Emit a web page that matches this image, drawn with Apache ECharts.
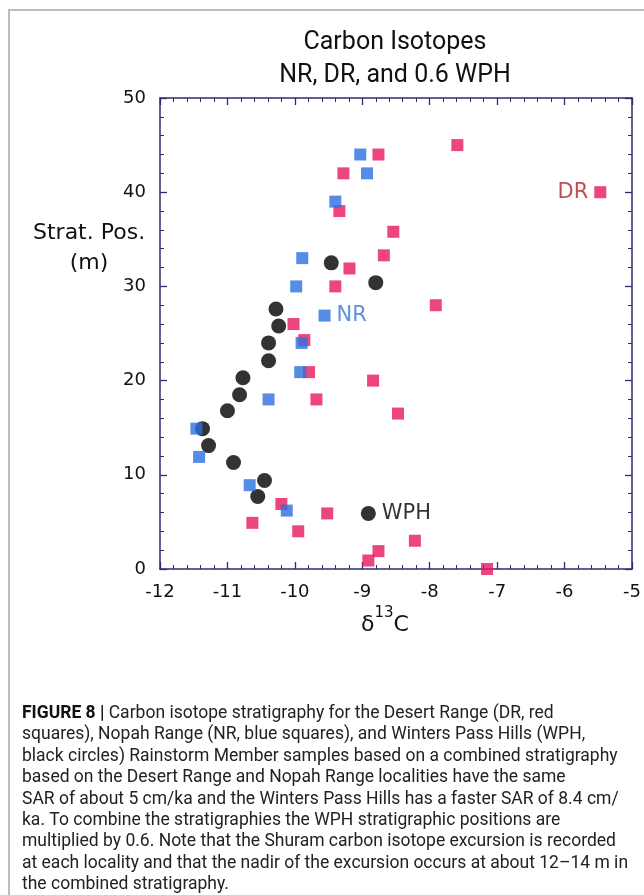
<!DOCTYPE html>
<html>
<head>
<meta charset="utf-8">
<script src="https://cdn.jsdelivr.net/npm/echarts@6/dist/echarts.min.js"></script>
<style>
  html, body { margin: 0; padding: 0; background: #fff; }
  #chart { width: 644px; height: 895px; }
</style>
</head>
<body>
<div id="chart"></div>
<script>
// Desert Range (red squares)
const drX = [-7.59, -8.76, -9.28, -5.47, -9.34, -8.54, -8.68, -9.19, -9.40, -7.91, -10.02, -9.86,
             -9.79, -8.84, -9.68, -8.47, -10.20, -9.52, -10.63, -9.95, -8.22, -8.76, -8.91, -7.15];
const drY = [45.0, 44.0, 42.0, 40.0, 38.0, 35.8, 33.3, 31.9, 30.0, 28.0, 26.0, 24.3,
             20.9, 20.0, 18.0, 16.5, 6.9, 5.9, 4.9, 4.0, 3.0, 1.9, 0.9, 0.0];
// Nopah Range (blue squares)
const nrX = [-9.03, -8.93, -9.40, -9.89, -9.98, -9.56, -9.90, -9.92, -10.39, -11.46, -11.42, -10.67, -10.12];
const nrY = [44.0, 42.0, 39.0, 33.0, 30.0, 26.9, 24.0, 20.9, 18.0, 14.9, 11.9, 8.9, 6.2];
// Winters Pass Hills x 0.6 (black circles)
const wphX = [-9.46, -8.80, -10.28, -10.24, -10.39, -10.39, -10.77, -10.82, -11.00, -11.37, -11.28, -10.91, -10.45, -10.55, -8.91];
const wphY = [32.5, 30.4, 27.6, 25.8, 24.0, 22.1, 20.3, 18.5, 16.8, 14.9, 13.1, 11.3, 9.4, 7.7, 5.9];

// which point carries the in-plot series label
const drLabelAt = 3;
const nrLabelAt = 5;
const wphLabelAt = 14;

const xTicks = [-12, -11, -10, -9, -8, -7, -6, -5];
const yTicks = [0, 10, 20, 30, 40, 50];

const captionLines = [
  '{b|FIGURE 8 |} Carbon isotope stratigraphy for the Desert Range (DR, red',
  'squares), Nopah Range (NR, blue squares), and Winters Pass Hills (WPH,',
  'black circles) Rainstorm Member samples based on a combined stratigraphy',
  'based on the Desert Range and Nopah Range localities have the same',
  'SAR of about 5 cm/ka and the Winters Pass Hills has a faster SAR of 8.4 cm/',
  'ka. To combine the stratigraphies the WPH stratigraphic positions are',
  'multiplied by 0.6. Note that the Shuram carbon isotope excursion is recorded',
  'at each locality and that the nadir of the excursion occurs at about 12\u201314 m in',
  'the combined stratigraphy.'
];

const AXIS_COLOR = '#2c2c72';
const LABEL_FONT = '"DejaVu Sans", sans-serif';
const CAPTION_FONT = 'Roboto, "Liberation Sans", sans-serif';

function points(xs, ys, labelAt, labelText, pos, color) {
  return xs.map((x, i) => {
    const item = { value: [x, ys[i]] };
    if (i === labelAt) {
      item.label = {
        show: true, formatter: labelText, position: pos, distance: 6,
        color: color, fontSize: 21, fontFamily: LABEL_FONT
      };
    }
    return item;
  });
}

function baseAxis(extra) {
  return Object.assign({
    type: 'value',
    axisLine: { show: true, onZero: false, lineStyle: { color: AXIS_COLOR, width: 1.5 } },
    axisTick: { show: true, inside: true, length: 7, lineStyle: { color: AXIS_COLOR, width: 1.3 } },
    minorTick: { show: true, splitNumber: 5, length: 4, lineStyle: { color: AXIS_COLOR, width: 1 } },
    splitLine: { show: false },
    axisLabel: { show: false }
  }, extra);
}

const chart = echarts.init(document.getElementById('chart'), null, { renderer: 'canvas' });

const option = {
  backgroundColor: '#fff',
  animation: false,
  title: {
    text: 'Carbon Isotopes\nNR, DR, and 0.6 WPH',
    left: 390,
    top: 21,
    textAlign: 'center',
    textStyle: {
      fontFamily: 'Roboto, sans-serif',
      fontWeight: 'normal', fontSize: 25, lineHeight: 33, color: '#111'
    }
  },
  grid: { left: 160, right: 12, top: 98, bottom: 326, containLabel: false },
  xAxis: [
    baseAxis({
      position: 'bottom', min: xTicks[0], max: xTicks[xTicks.length - 1], interval: 1,
      axisLabel: { show: true, margin: 14, fontSize: 18, fontFamily: LABEL_FONT, color: '#111' },
      name: '{d|\u03b4}{s|13}{c|C}',
      nameLocation: 'middle',
      nameGap: 37,
      nameTextStyle: {
        padding: [0, 22, 0, 0],
        rich: {
          d: { fontSize: 22, fontFamily: LABEL_FONT, color: '#111', lineHeight: 30, verticalAlign: 'bottom' },
          s: { fontSize: 15, fontFamily: LABEL_FONT, color: '#111', lineHeight: 30, verticalAlign: 'top' },
          c: { fontSize: 22, fontFamily: LABEL_FONT, color: '#111', lineHeight: 30, verticalAlign: 'bottom' }
        }
      }
    }),
    baseAxis({ position: 'top', min: xTicks[0], max: xTicks[xTicks.length - 1], interval: 1 })
  ],
  yAxis: [
    baseAxis({
      position: 'left', min: yTicks[0], max: yTicks[yTicks.length - 1], interval: 10,
      axisLabel: { show: true, margin: 14, fontSize: 18, fontFamily: LABEL_FONT, color: '#111' }
    }),
    baseAxis({ position: 'right', min: yTicks[0], max: yTicks[yTicks.length - 1], interval: 10 })
  ],
  graphic: [
    {
      type: 'rect', silent: true, z: -10,
      shape: { x: 9, y: 10, width: 700, height: 900 },
      style: { fill: 'none', stroke: '#bdbdbd', lineWidth: 2 }
    },
    {
      type: 'text', left: 33, top: 218,
      style: {
        text: 'Strat. Pos.\n(m)', textAlign: 'center',
        font: '22px "DejaVu Sans", sans-serif', lineHeight: 30, fill: '#111'
      }
    },
    {
      type: 'text', left: 22, top: 703,
      style: {
        text: captionLines.join('\n'),
        fontFamily: CAPTION_FONT,
        fontSize: 17.5, lineHeight: 21.4, fill: '#222',
        rich: {
          b: { fontFamily: CAPTION_FONT, fontWeight: 'bold', fontSize: 17.5, lineHeight: 21.4, fill: '#111' }
        }
      }
    }
  ],
  series: [
    {
      name: 'DR', type: 'scatter', symbol: 'rect', symbolSize: 12, z: 2,
      itemStyle: { color: '#e8175d' },
      data: points(drX, drY, drLabelAt, 'DR', 'left', '#b0222a')
    },
    {
      name: 'WPH', type: 'scatter', symbol: 'circle', symbolSize: 15, z: 3,
      itemStyle: { color: '#000' },
      data: points(wphX, wphY, wphLabelAt, 'WPH', 'right', '#000')
    },
    {
      name: 'NR', type: 'scatter', symbol: 'rect', symbolSize: 12, z: 4,
      itemStyle: { color: '#2b70e0' },
      data: points(nrX, nrY, nrLabelAt, 'NR', 'right', '#3576d2')
    }
  ]
};

chart.setOption(option);
</script>
</body>
</html>
